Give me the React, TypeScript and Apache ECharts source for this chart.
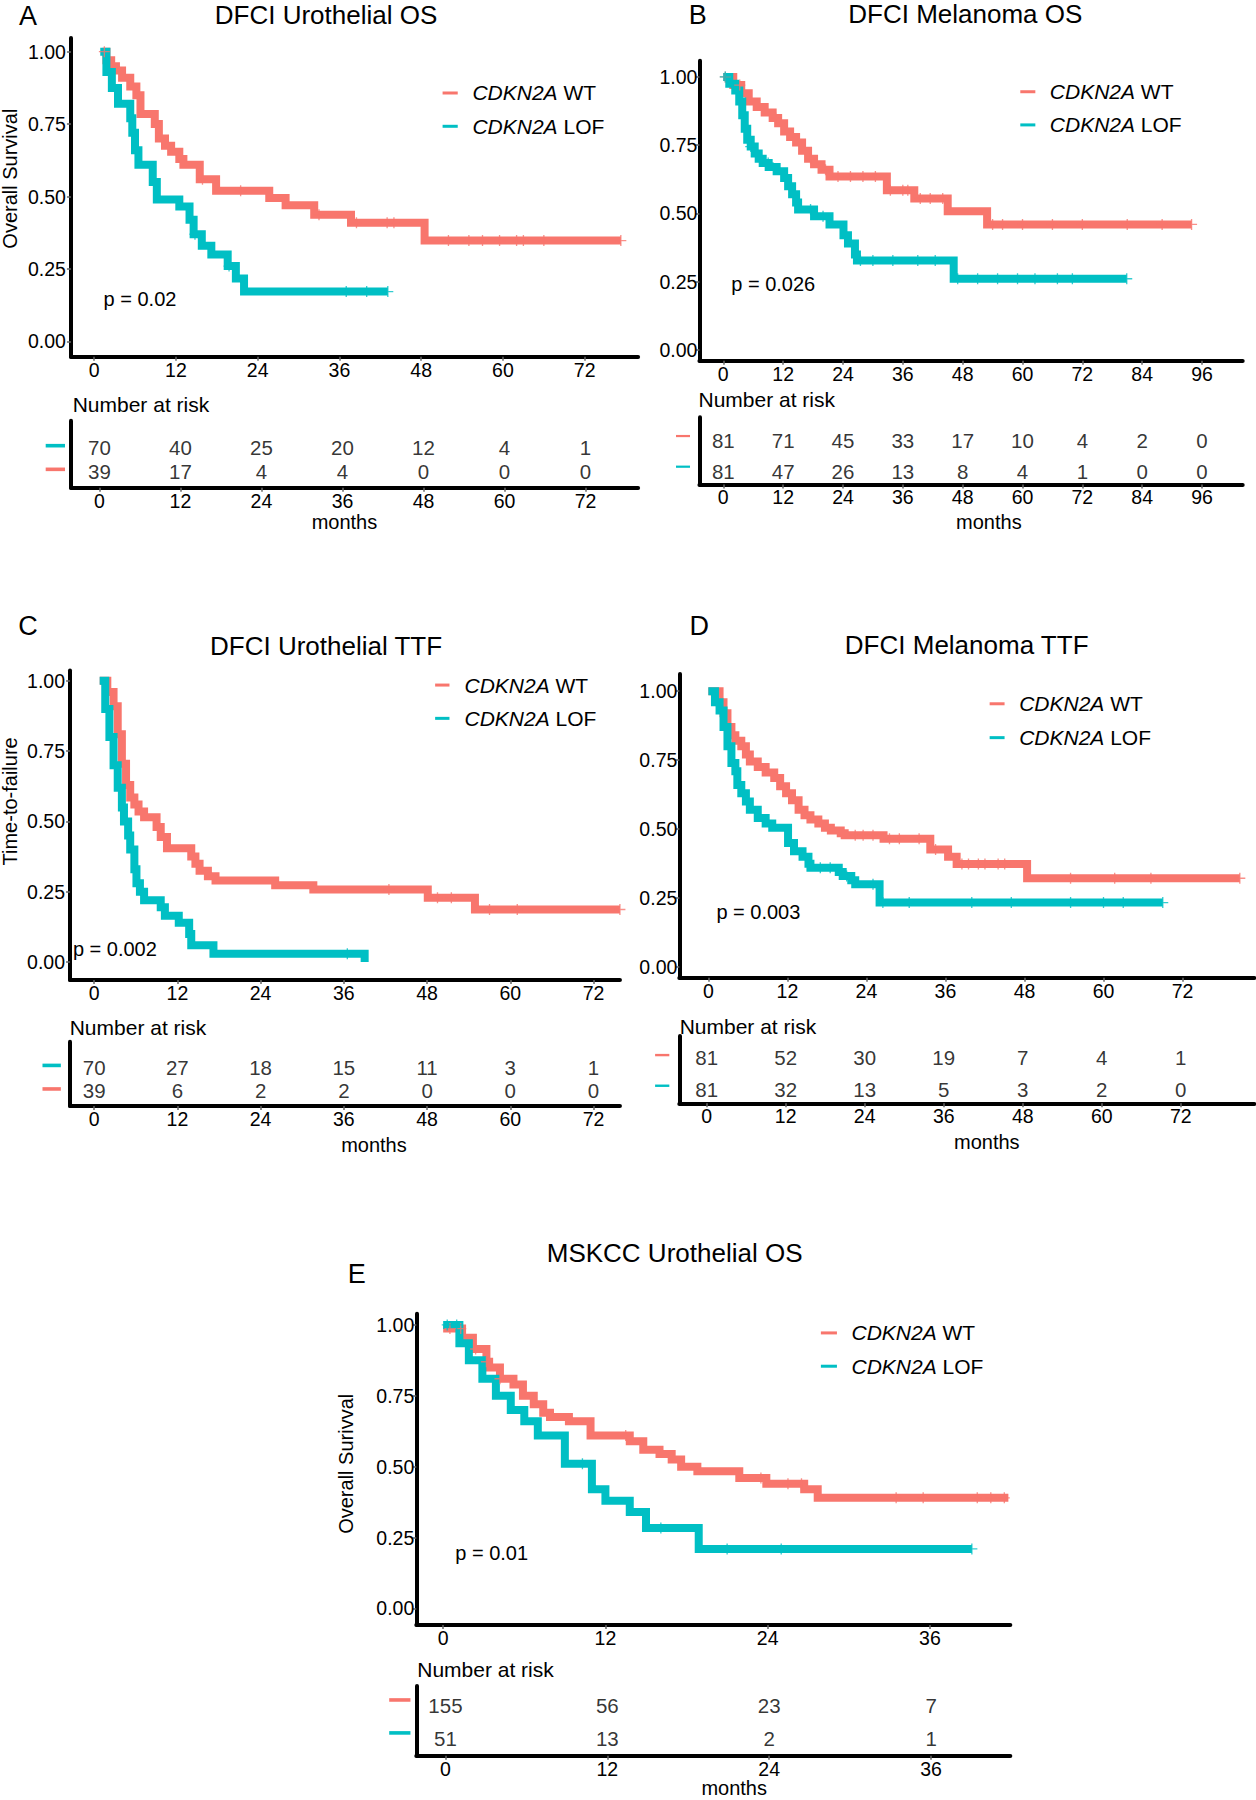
import React, { useEffect, useRef } from 'react';
import * as echarts from 'echarts';

// ---------------- data ----------------
const ticks72 = [0, 12, 24, 36, 48, 60, 72];
const ticks96 = [0, 12, 24, 36, 48, 60, 72, 84, 96];
const ticks36 = [0, 12, 24, 36];
const yTicks = [0, 0.25, 0.5, 0.75, 1];

// Panel A – DFCI Urothelial OS
const aWtTime = [1.2, 1.8, 2.5, 3.2, 4.1, 5.3, 6.2, 6.8, 8.9, 9.5, 10.4, 11.3, 12.5, 13.1, 15.5, 17.9, 25.7, 28.1, 32.3, 37.7, 48.5, 77.3];
const aWtSurv = [1, 0.97, 0.95, 0.935, 0.91, 0.88, 0.85, 0.785, 0.75, 0.7, 0.675, 0.655, 0.63, 0.61, 0.56, 0.52, 0.495, 0.47, 0.437, 0.41, 0.348, 0.348];
const aWtCens = [1.5, 15.9, 21.5, 33, 38.5, 43, 44, 52, 55, 57, 59.5, 62, 63, 66, 77.3];
const aLofTime = [0.9, 1.8, 2.6, 3.5, 5.3, 5.6, 6.0, 6.5, 8.6, 9.2, 12.5, 14.0, 14.6, 15.8, 17.2, 19.6, 20.8, 22.0, 43.1];
const aLofSurv = [1, 0.93, 0.875, 0.82, 0.77, 0.72, 0.66, 0.61, 0.55, 0.49, 0.466, 0.42, 0.37, 0.33, 0.3, 0.26, 0.217, 0.172, 0.172];
const aLofCens = [14.8, 19.8, 37, 40, 43.1];
const aRisk1 = [70, 40, 25, 20, 12, 4, 1];
const aRisk2 = [39, 17, 4, 4, 0, 0, 0];

// Panel B – DFCI Melanoma OS
const bWtTime = [0, 2.0, 3.6, 5.1, 6.7, 8.3, 9.9, 11.0, 12.2, 13.4, 14.6, 15.8, 17.0, 18.2, 19.7, 21.3, 32.8, 38.3, 45.0, 52.9, 93.9];
const bWtSurv = [1, 0.97, 0.94, 0.91, 0.89, 0.87, 0.85, 0.83, 0.8, 0.78, 0.76, 0.73, 0.7, 0.68, 0.66, 0.635, 0.585, 0.555, 0.508, 0.46, 0.46];
const bWtCens = [0.4, 3.3, 10.5, 17.5, 20.5, 23, 25.5, 28, 30.5, 33.5, 36, 37, 39.5, 41.5, 44, 54, 56, 60, 66, 72, 81, 88, 93.9];
const bLofTime = [0, 1.2, 2.4, 3.2, 3.8, 4.3, 4.8, 5.5, 6.3, 7.1, 7.9, 9.1, 10.7, 12.2, 13.0, 13.8, 14.6, 15.0, 18.2, 21.3, 24.1, 25.0, 26.4, 26.8, 46.2, 80.9];
const bLofSurv = [1, 0.975, 0.95, 0.91, 0.86, 0.81, 0.77, 0.745, 0.72, 0.7, 0.685, 0.67, 0.655, 0.63, 0.6, 0.57, 0.54, 0.515, 0.49, 0.46, 0.42, 0.39, 0.35, 0.328, 0.261, 0.261];
const bLofCens = [0.4, 5.5, 9, 17.5, 20, 27.5, 30, 34, 39, 42.5, 47, 51, 55, 59, 62.5, 67, 70, 80.9];
const bRisk1 = [81, 71, 45, 33, 17, 10, 4, 2, 0];
const bRisk2 = [81, 47, 26, 13, 8, 4, 1, 0, 0];

// Panel C – DFCI Urothelial TTF
const cWtTime = [0.8, 1.9, 2.8, 3.4, 4.0, 4.6, 5.2, 5.8, 6.4, 7.2, 9.0, 9.6, 10.5, 14.0, 14.6, 15.2, 16.4, 17.5, 26.1, 31.6, 48.1, 54.9, 75.8];
const cWtSurv = [1, 0.96, 0.91, 0.81, 0.705, 0.63, 0.585, 0.56, 0.535, 0.515, 0.48, 0.445, 0.405, 0.375, 0.35, 0.325, 0.305, 0.29, 0.273, 0.258, 0.229, 0.187, 0.187];
const cWtCens = [42.5, 49.5, 51.5, 57, 61, 75.8];
const cLofTime = [0.8, 1.6, 2.2, 2.8, 3.4, 4.0, 4.3, 4.9, 5.2, 5.8, 6.1, 6.6, 7.2, 9.6, 10.2, 12.2, 13.7, 14.0, 17.2, 39.0];
const cLofSurv = [1, 0.9, 0.8, 0.7, 0.62, 0.55, 0.5, 0.45, 0.4, 0.33, 0.28, 0.25, 0.22, 0.195, 0.165, 0.14, 0.1, 0.06, 0.03, 0.0];
const cLofCens = [36.5];
const cRisk1 = [70, 27, 18, 15, 11, 3, 1];
const cRisk2 = [39, 6, 2, 2, 0, 0, 0];

// Panel D – DFCI Melanoma TTF
const dWtTime = [0, 1.7, 2.3, 2.9, 3.5, 4.1, 5.0, 5.7, 6.3, 7.5, 8.7, 10.0, 10.9, 11.8, 12.7, 13.7, 14.6, 15.5, 16.7, 17.7, 18.6, 20.1, 20.7, 26.6, 33.7, 36.4, 37.7, 48.4, 80.7];
const dWtSurv = [1, 0.96, 0.92, 0.87, 0.84, 0.82, 0.8, 0.77, 0.745, 0.725, 0.705, 0.685, 0.655, 0.63, 0.605, 0.57, 0.55, 0.535, 0.52, 0.505, 0.495, 0.485, 0.478, 0.465, 0.426, 0.4, 0.374, 0.322, 0.322];
const dWtCens = [22.3, 23.5, 25, 27.5, 29, 32, 34.5, 38.5, 39.5, 41, 42, 44, 45, 55, 61.7, 67.2, 80.7];
const dLofTime = [0, 1.0, 1.7, 2.3, 2.9, 3.5, 4.1, 4.4, 5.0, 5.7, 6.3, 7.5, 8.7, 9.7, 12.1, 13.0, 14.3, 15.2, 15.5, 19.8, 20.4, 21.7, 22.3, 26.0, 69.0];
const dLofSurv = [1, 0.96, 0.93, 0.87, 0.8, 0.74, 0.71, 0.66, 0.63, 0.6, 0.57, 0.54, 0.52, 0.505, 0.45, 0.42, 0.4, 0.375, 0.36, 0.345, 0.33, 0.315, 0.3, 0.234, 0.234];
const dLofCens = [17, 18.5, 21, 25, 26.5, 30.5, 40, 46, 55, 60, 63, 69];
const dRisk1 = [81, 52, 30, 19, 7, 4, 1];
const dRisk2 = [81, 32, 13, 5, 3, 2, 0];

// Panel E – MSKCC Urothelial OS
const eWtTime = [0, 1.4, 2.2, 3.2, 3.4, 4.2, 5.2, 5.9, 6.7, 7.4, 7.9, 9.3, 10.9, 13.8, 14.8, 16.0, 16.9, 17.6, 18.8, 21.9, 23.9, 26.7, 27.7, 41.8];
const eWtSurv = [0.987, 0.955, 0.915, 0.87, 0.85, 0.81, 0.79, 0.75, 0.72, 0.69, 0.675, 0.66, 0.61, 0.59, 0.56, 0.545, 0.525, 0.5, 0.484, 0.46, 0.44, 0.42, 0.39, 0.39];
const eWtCens = [0.5, 1.3, 2.4, 3.2, 4.2, 13.5, 23.5, 25.5, 26.5, 33.5, 35.5, 39.5, 40.5, 41.5];
const eLofTime = [0, 1.2, 1.9, 2.9, 3.9, 5.0, 6.0, 7.0, 9.0, 11.0, 12.0, 13.8, 15.0, 18.9, 39.1];
const eLofSurv = [1, 0.935, 0.875, 0.81, 0.75, 0.7, 0.66, 0.61, 0.51, 0.42, 0.38, 0.34, 0.284, 0.21, 0.21];
const eLofCens = [0.3, 1.0, 10.3, 16.1, 21, 25, 39.1];
const eRisk1 = [155, 56, 23, 7];
const eRisk2 = [51, 13, 2, 1];

// ---------------- style / layout ----------------
const S = 1256 / 1094;
const RED = '#F8766D';
const CYAN = '#00BFC4';
const FONT = '"Liberation Sans", Arial, Helvetica, sans-serif';
const INK = '#000000';
const PLUS = 'path://M-0.6,-5H0.6V-0.6H5V0.6H0.6V5H-0.6V0.6H-5V-0.6H-0.6Z';
const WT = 'CDKN2A WT';
const LOF = 'CDKN2A LOF';
const TICK_FS = 19.5;
const RISK_FS = 20.5;

type Curve = { t: number[]; s: number[]; c: number[] };
type Lay = {
  axL: number; axR: number; axT: number; axB: number; x0: number; x1: number; y1: number; y0: number; yMargin: number;
  rL: number; rR: number; rT: number; rB: number; rx0: number; rx1: number; row1: number; row2: number;
  mkX: number; mkW: number; mk1: number; mk2: number; mkH: number;
  letter: number[]; title: number[]; yTitle: number[] | null; legKey: number; legKeyW: number; legText: number; leg1: number; leg2: number;
  p: number[]; nar: number[]; months: number[];
};
type Panel = {
  letter: string; title: string; yName: string; p: string; ticks: number[];
  wt: Curve; lof: Curve; risk1: number[]; risk2: number[]; rowColors: string[]; L: Lay;
};

const panels: Panel[] = [
  {
    letter: 'A', title: 'DFCI Urothelial OS', yName: 'Overall Survival', p: 'p = 0.02', ticks: ticks72,
    wt: { t: aWtTime, s: aWtSurv, c: aWtCens }, lof: { t: aLofTime, s: aLofSurv, c: aLofCens },
    risk1: aRisk1, risk2: aRisk2, rowColors: [CYAN, RED],
    L: {
      axL: 61.8, axR: 555.8, axT: 33, axB: 310.7, x0: 82, x1: 509.3, y1: 45, y0: 297.4, yMargin: 5,
      rL: 61.8, rR: 555.8, rT: 366.4, rB: 424.8, rx0: 86.6, rx1: 510, row1: 390, row2: 411,
      mkX: 39.8, mkW: 16.8, mk1: 388.2, mk2: 408.8, mkH: 3.6,
      letter: [24.4, 13.6], title: [284, 12.8], yTitle: [8.9, 155.6], legKey: 385.5, legKeyW: 13.2, legText: 411.5, leg1: 81, leg2: 110,
      p: [90.2, 260.3], nar: [63.3, 352.2], months: [300, 454.6],
    },
  },
  {
    letter: 'B', title: 'DFCI Melanoma OS', yName: '', p: 'p = 0.026', ticks: ticks96,
    wt: { t: bWtTime, s: bWtSurv, c: bWtCens }, lof: { t: bLofTime, s: bLofSurv, c: bLofCens },
    risk1: bRisk1, risk2: bRisk2, rowColors: [RED, CYAN],
    L: {
      axL: 609.2, axR: 1082.4, axT: 53, axB: 314.2, x0: 630, x1: 1047, y1: 67, y0: 304.9, yMargin: 2,
      rL: 609.2, rR: 1082.4, rT: 363.5, rB: 421.9, rx0: 630, rx1: 1047, row1: 383.3, row2: 410.3,
      mkX: 588.8, mkW: 12.2, mk1: 379.8, mk2: 406.5, mkH: 2.2,
      letter: [607.7, 13], title: [840.8, 12.6], yTitle: null, legKey: 888.7, legKeyW: 13.1, legText: 914.4, leg1: 79.9, leg2: 108.8,
      p: [636.9, 247.2], nar: [608.4, 348], months: [861.3, 455],
    },
  },
  {
    letter: 'C', title: 'DFCI Urothelial TTF', yName: 'Time-to-failure', p: 'p = 0.002', ticks: ticks72,
    wt: { t: cWtTime, s: cWtSurv, c: cWtCens }, lof: { t: cLofTime, s: cLofSurv, c: cLofCens },
    risk1: cRisk1, risk2: cRisk2, rowColors: [CYAN, RED],
    L: {
      axL: 61, axR: 540, axT: 584, axB: 853.6, x0: 82, x1: 517, y1: 593, y0: 838, yMargin: 5,
      rL: 61, rR: 540, rT: 907.4, rB: 963.4, rx0: 82, rx1: 517, row1: 930, row2: 950,
      mkX: 37, mkW: 16, mk1: 928, mk2: 948.5, mkH: 3.6,
      letter: [24.4, 545], title: [284, 562.5], yTitle: [8.9, 698], legKey: 379, legKeyW: 12.5, legText: 404.6, leg1: 596.7, leg2: 625.7,
      p: [63.5, 826.5], nar: [60.7, 894.7], months: [325.7, 997],
    },
  },
  {
    letter: 'D', title: 'DFCI Melanoma TTF', yName: '', p: 'p = 0.003', ticks: ticks72,
    wt: { t: dWtTime, s: dWtSurv, c: dWtCens }, lof: { t: dLofTime, s: dLofSurv, c: dLofCens },
    risk1: dRisk1, risk2: dRisk2, rowColors: [RED, CYAN],
    L: {
      axL: 591.7, axR: 1092.5, axT: 587, axB: 851.6, x0: 617, x1: 1030, y1: 602, y0: 842.4, yMargin: 2,
      rL: 591.7, rR: 1092.5, rT: 902.4, rB: 961, rx0: 615.5, rx1: 1028.5, row1: 921.5, row2: 948.6,
      mkX: 570.6, mkW: 12.4, mk1: 919, mk2: 945.7, mkH: 2.4,
      letter: [609, 545], title: [842, 562], yTitle: null, legKey: 862, legKeyW: 13, legText: 887.7, leg1: 613, leg2: 642.5,
      p: [624, 794], nar: [592, 894.3], months: [859.5, 995],
    },
  },
  {
    letter: 'E', title: 'MSKCC Urothelial OS', yName: 'Overall Surivval', p: 'p = 0.01', ticks: ticks36,
    wt: { t: eWtTime, s: eWtSurv, c: eWtCens }, lof: { t: eLofTime, s: eLofSurv, c: eLofCens },
    risk1: eRisk1, risk2: eRisk2, rowColors: [RED, CYAN],
    L: {
      axL: 362.6, axR: 880, axT: 1144.4, axB: 1415.3, x0: 386, x1: 810, y1: 1154, y0: 1401, yMargin: 2,
      rL: 362.6, rR: 880, rT: 1468.6, rB: 1529.4, rx0: 388, rx1: 811, row1: 1485.4, row2: 1514,
      mkX: 339, mkW: 18.5, mk1: 1480.7, mk2: 1509.4, mkH: 3.6,
      letter: [310.7, 1109.4], title: [587.6, 1091], yTitle: [301.8, 1275], legKey: 715, legKeyW: 14, legText: 741.7, leg1: 1161, leg2: 1190,
      p: [396.5, 1352.5], nar: [363.4, 1454.5], months: [639.5, 1557.5],
    },
  },
];

function lin(pa: number, va: number, pb: number, vb: number, p: number) {
  return va + ((p - pa) * (vb - va)) / (pb - pa);
}
function stepAt(c: Curve, x: number) {
  let v = c.s[0];
  for (let i = 0; i < c.t.length; i++) if (c.t[i] <= x) v = c.s[i];
  return v;
}

function text(x: number, y: number, str: string, size: number, align: string, opts: any = {}) {
  return {
    type: 'text', x: x * S, y: y * S, silent: true, ...opts,
    style: {
      text: str, fontSize: size, fontFamily: FONT, fill: INK,
      textAlign: align, textVerticalAlign: 'middle', align, verticalAlign: 'middle',
    },
  };
}

function buildOption() {
  const grid: any[] = [];
  const xAxis: any[] = [];
  const yAxis: any[] = [];
  const series: any[] = [];
  const legend: any[] = [];
  const graphic: any[] = [];

  panels.forEach((P, i) => {
    const L = P.L;
    const gi = 2 * i;
    const ri = 2 * i + 1;
    const tMax = P.ticks[P.ticks.length - 1];

    grid.push({ left: L.axL * S, top: L.axT * S, width: (L.axR - L.axL) * S, height: (L.axB - L.axT) * S, containLabel: false, outerBoundsMode: 'none' });
    grid.push({ left: L.rL * S, top: L.rT * S, width: (L.rR - L.rL) * S, height: (L.rB - L.rT) * S, containLabel: false, outerBoundsMode: 'none' });

    const axisLine = { show: true, onZero: false, lineStyle: { color: '#000', width: 4 } };
    const xLabel = { customValues: P.ticks, fontSize: TICK_FS, fontFamily: FONT, color: INK, margin: 3 };
    const xTick = { show: true, customValues: P.ticks, length: 4, lineStyle: { color: '#666', width: 1.5 } };

    xAxis.push({
      gridIndex: gi, type: 'value',
      min: lin(L.x0, 0, L.x1, tMax, L.axL), max: lin(L.x0, 0, L.x1, tMax, L.axR),
      axisLine, axisTick: xTick, axisLabel: xLabel, splitLine: { show: false },
    });
    yAxis.push({
      gridIndex: gi, type: 'value',
      min: lin(L.y1, 1, L.y0, 0, L.axB), max: lin(L.y1, 1, L.y0, 0, L.axT),
      axisLine, axisTick: { show: true, customValues: yTicks, length: 4, lineStyle: { color: '#666', width: 1.5 } },
      axisLabel: { customValues: yTicks, fontSize: TICK_FS, fontFamily: FONT, color: INK, margin: L.yMargin, formatter: (v: number) => v.toFixed(2) },
      splitLine: { show: false },
    });
    xAxis.push({
      gridIndex: ri, type: 'value',
      min: lin(L.rx0, 0, L.rx1, tMax, L.rL), max: lin(L.rx0, 0, L.rx1, tMax, L.rR),
      axisLine, axisTick: xTick, axisLabel: xLabel, splitLine: { show: false },
    });
    yAxis.push({
      gridIndex: ri, type: 'value', inverse: true,
      min: lin(L.row1, 1, L.row2, 2, L.rT), max: lin(L.row1, 1, L.row2, 2, L.rB),
      axisLine, axisTick: { show: false }, axisLabel: { show: false }, splitLine: { show: false },
    });

    const curves: [string, Curve, string][] = [[WT, P.wt, RED], [LOF, P.lof, CYAN]];
    curves.forEach(([name, c, col]) => {
      series.push({
        type: 'line', name, xAxisIndex: gi, yAxisIndex: gi, step: 'end', showSymbol: false, symbol: 'none',
        color: col, itemStyle: { color: col }, lineStyle: { color: col, width: 8, join: 'miter', cap: 'butt' }, silent: true, z: 3,
        data: c.t.map((t, k) => [t, c.s[k]]),
      });
    });
    curves.forEach(([name, c, col]) => {
      series.push({
        type: 'scatter', name: name + ' censored', xAxisIndex: gi, yAxisIndex: gi, symbol: PLUS, symbolSize: 11,
        itemStyle: { color: col }, silent: true, z: 4,
        data: c.c.map((t) => [t, stepAt(c, t)]),
      });
    });
    const riskData: any[] = [];
    P.ticks.forEach((t, k) => {
      riskData.push([t, 1, P.risk1[k]]);
      riskData.push([t, 2, P.risk2[k]]);
    });
    series.push({
      type: 'scatter', name: 'Number at risk ' + P.letter, xAxisIndex: ri, yAxisIndex: ri, symbolSize: 1,
      itemStyle: { color: 'rgba(0,0,0,0)' }, silent: true, data: riskData,
      label: { show: true, position: 'inside', formatter: (p: any) => String(p.value[2]), fontSize: RISK_FS, fontFamily: FONT, color: INK },
    });

    [[WT, L.leg1], [LOF, L.leg2]].forEach(([name, yc]) => {
      const gap = (L.legText - L.legKey - L.legKeyW) * S - 5;
      legend.push({
        data: [name], left: L.legKey * S, top: (yc as number) * S - 12, padding: 0, itemGap: 0,
        icon: 'rect', itemWidth: L.legKeyW * S, itemHeight: 3, selectedMode: false,
        formatter: (n: string) => `{g|}{i|CDKN2A}{r|${n.replace('CDKN2A', '')}}`,
        textStyle: {
          fontSize: 21, fontFamily: FONT, color: INK, lineHeight: 24,
          rich: {
            g: { width: gap, lineHeight: 24 },
            i: { fontStyle: 'italic', fontSize: 21, fontFamily: FONT, color: INK, lineHeight: 24 },
            r: { fontSize: 21, fontFamily: FONT, color: INK, lineHeight: 24 },
          },
        },
      });
    });

    graphic.push(text(L.letter[0], L.letter[1], P.letter, 27, 'center'));
    graphic.push(text(L.title[0], L.title[1], P.title, 26, 'center'));
    if (L.yTitle) graphic.push(text(L.yTitle[0], L.yTitle[1], P.yName, 20, 'center', { rotation: Math.PI / 2 }));
    graphic.push(text(L.p[0], L.p[1], P.p, 20, 'left'));
    graphic.push(text(L.nar[0], L.nar[1], 'Number at risk', 21, 'left'));
    graphic.push(text(L.months[0], L.months[1], 'months', 20, 'center'));
    [[L.mk1, P.rowColors[0]], [L.mk2, P.rowColors[1]]].forEach(([yc, col]) => {
      graphic.push({
        type: 'rect', silent: true,
        shape: { x: L.mkX * S, y: (yc as number) * S - L.mkH / 2, width: L.mkW * S, height: L.mkH },
        style: { fill: col as string },
      });
    });
  });

  return {
    animation: false,
    backgroundColor: '#ffffff',
    grid, xAxis, yAxis, series, legend, graphic,
  };
}

export default function App() {
  const ref = useRef<HTMLDivElement>(null);
  useEffect(() => {
    if (!ref.current) return;
    const chart = echarts.init(ref.current, undefined, { renderer: 'svg' });
    chart.setOption(buildOption() as any);
    return () => chart.dispose();
  }, []);
  return (
    <div
      ref={ref}
      style={{ position: 'absolute', left: 0, top: 0, width: 1256, height: 1800, background: '#fff' }}
    />
  );
}
